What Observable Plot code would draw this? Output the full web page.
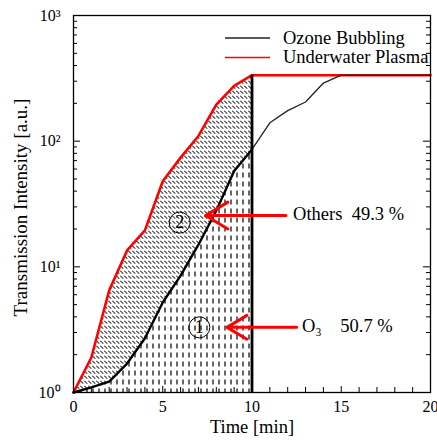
<!DOCTYPE html>
<html>
<head>
<meta charset="utf-8">
<script src="https://cdn.jsdelivr.net/npm/d3@7"></script>
<script src="https://cdn.jsdelivr.net/npm/@observablehq/plot@0.6"></script>
<style>
  html, body { margin: 0; padding: 0; background: #fff; }
  #chart { width: 437px; height: 442px; }
</style>
</head>
<body>
<div id="chart"></div>
<script>
// ---- data ----
const timeMin = [0, 1, 2, 3, 4, 5, 6, 7, 8, 9, 10, 11, 12, 13, 14, 15, 16, 17, 18, 19, 20];
const ozoneBubbling = [1, 1.1, 1.22, 1.7, 2.7, 5.2, 8.5, 15, 28, 58, 86, 140, 175, 205, 290, 335, 335, 335, 335, 335, 335];
const underwaterPlasma = [1, 1.9, 6.5, 13.5, 19.5, 48, 74, 110, 195, 275, 335, 335, 335, 335, 335, 335, 335, 335, 335, 335, 335];
const seriesNames = ["Ozone Bubbling", "Underwater Plasma"];
const seriesColors = ["#222", "#ff0000"];
const cutoffTime = 10;
const plateau = 335;

const xTicks = [0, 5, 10, 15, 20];
const xMinorTicks = [1,2,3,4,6,7,8,9,11,12,13,14,16,17,18,19];
const yTicks = [1, 10, 100, 1000];
const yMinorTicks = [2,3,4,5,6,7,8,9,20,30,40,50,60,70,80,90,200,300,400,500,600,700,800,900];
const supDigits = ["\u2070", "\u00b9", "\u00b2", "\u00b3"];

const xTitle = "Time [min]";
const yTitle = "Transmission Intensity [a.u.]";

const annotLabels = ["Others\u00a0\u00a049.3\u00a0%", "O\u2083\u00a0\u00a0\u00a0\u00a050.7\u00a0%"];
const annotArrowFrom = [11.9, 12.5];
const annotArrowTo = [7.4, 8.6];
const annotTextX = [12.3, 12.8];
const annotY = [25.6, 3.3];
const circleLabels = ["2", "1"];
const circleX = [5.95, 7.05];
const circleY = [22.5, 3.3];

// ---- build tables ----
const rows = timeMin.map((t, i) => ({t, ozone: ozoneBubbling[i], plasma: underwaterPlasma[i]}));
const region = rows.filter(d => d.t <= cutoffTime);
const after = rows.filter(d => d.t >= cutoffTime);
const arrows = annotLabels.map((l, i) => ({label: l, x1: annotArrowFrom[i], x2: annotArrowTo[i], tx: annotTextX[i], y: annotY[i]}));
const circles = circleLabels.map((l, i) => ({label: l, x: circleX[i], y: circleY[i]}));

const FONT = "Liberation Serif";
const W = 437, H = 442, ML = 73, MR = 7, MT = 15, MB = 50;
const FW = W - ML - MR, FH = H - MT - MB;

const chart = Plot.plot({
  width: W,
  height: H,
  marginLeft: ML,
  marginRight: MR,
  marginTop: MT,
  marginBottom: MB,
  style: {fontFamily: FONT, fontSize: "16px", color: "#000", background: "#fff", overflow: "visible"},
  x: {domain: [0, 20]},
  y: {type: "log", domain: [1, 1000]},
  marks: [
    Plot.areaY(region, {x: "t", y1: 1, y2: "ozone", fill: "url(#vdash)"}),
    Plot.areaY(region, {x: "t", y1: "ozone", y2: "plasma", fill: "url(#diag)"}),
    Plot.lineY(rows, {x: "t", y: "plasma", stroke: seriesColors[1], strokeWidth: 2.6}),
    Plot.lineY(region, {x: "t", y: "ozone", stroke: "#000", strokeWidth: 2.4}),
    Plot.lineY(after, {x: "t", y: "ozone", stroke: seriesColors[0], strokeWidth: 1.3}),
    Plot.ruleX([cutoffTime], {y1: 1, y2: plateau, stroke: "#000", strokeWidth: 2.8}),
    // inward ticks
    Plot.tickY(yMinorTicks, {y: d => d, insetRight: FW - 4, stroke: "#000"}),
    Plot.tickY(yMinorTicks, {y: d => d, insetLeft: FW - 4, stroke: "#000"}),
    Plot.tickY(yTicks, {y: d => d, insetRight: FW - 7, stroke: "#000"}),
    Plot.tickY(yTicks, {y: d => d, insetLeft: FW - 7, stroke: "#000"}),
    Plot.tickX(xMinorTicks, {x: d => d, insetTop: FH - 5, stroke: "#000"}),
    Plot.tickX(xTicks, {x: d => d, insetTop: FH - 6, stroke: "#000"}),
    Plot.axisY({ticks: yTicks, tickSize: 0, tickPadding: 13, label: null, anchor: "left", fontSize: 16, fontFamily: FONT,
      tickFormat: d => "10" + supDigits[Math.round(Math.log10(d))]}),
    Plot.axisX({ticks: xTicks, tickSize: 0, tickPadding: 8, label: null, anchor: "bottom", fontSize: 16, fontFamily: FONT}),
    Plot.frame({stroke: "#000", strokeWidth: 1.3}),
    Plot.text([yTitle], {frameAnchor: "left", textAnchor: "middle", rotate: -90, dx: -53, dy: 3.5, fontSize: 19, fontFamily: FONT}),
    Plot.text([xTitle], {frameAnchor: "bottom", dy: 40, fontSize: 18.5, fontFamily: FONT}),
    // annotations
    Plot.arrow(arrows, {x1: "x1", x2: "x2", y1: "y", y2: "y", stroke: "#ff0000", strokeWidth: 3, headLength: 13, headAngle: 62}),
    Plot.text(arrows, {x: "tx", y: "y", text: "label", textAnchor: "start", dy: -1, fontSize: 18.5, fontFamily: FONT}),
    Plot.dot(circles, {x: "x", y: "y", r: 10.5, stroke: "#000", strokeWidth: 1, fill: "none"}),
    Plot.text(circles, {x: "x", y: "y", text: "label", fontSize: 18, fontFamily: FONT})
  ]
});

// hatch patterns
const svg = d3.select(chart);
const defs = svg.insert("defs", ":first-child");
const diag = defs.append("pattern").attr("id", "diag").attr("patternUnits", "userSpaceOnUse")
  .attr("width", 4).attr("height", 5);
diag.append("line").attr("x1", 0.3).attr("y1", 0.8).attr("x2", 3.3).attr("y2", 3.6)
  .attr("stroke", "#333").attr("stroke-width", 1.1);
const vdash = defs.append("pattern").attr("id", "vdash").attr("patternUnits", "userSpaceOnUse")
  .attr("width", 6).attr("height", 9);
vdash.append("line").attr("x1", 3).attr("y1", 1.5).attr("x2", 3).attr("y2", 6.5)
  .attr("stroke", "#000").attr("stroke-width", 1.2);

// legend inside the frame, top-right
const legend = svg.append("g").attr("font-family", FONT).attr("font-size", 18.5).attr("text-anchor", "start");
seriesNames.forEach((name, i) => {
  const y = 38 + i * 19.5;
  legend.append("line").attr("x1", 225).attr("x2", 270).attr("y1", y).attr("y2", y)
    .attr("stroke", seriesColors[i]).attr("stroke-width", 1.3);
  legend.append("text").attr("x", 283).attr("y", y).attr("dy", "0.32em").attr("fill", "#000")
    .attr("text-anchor", "start").text(name);
});

document.getElementById("chart").appendChild(chart);
</script>
</body>
</html>
